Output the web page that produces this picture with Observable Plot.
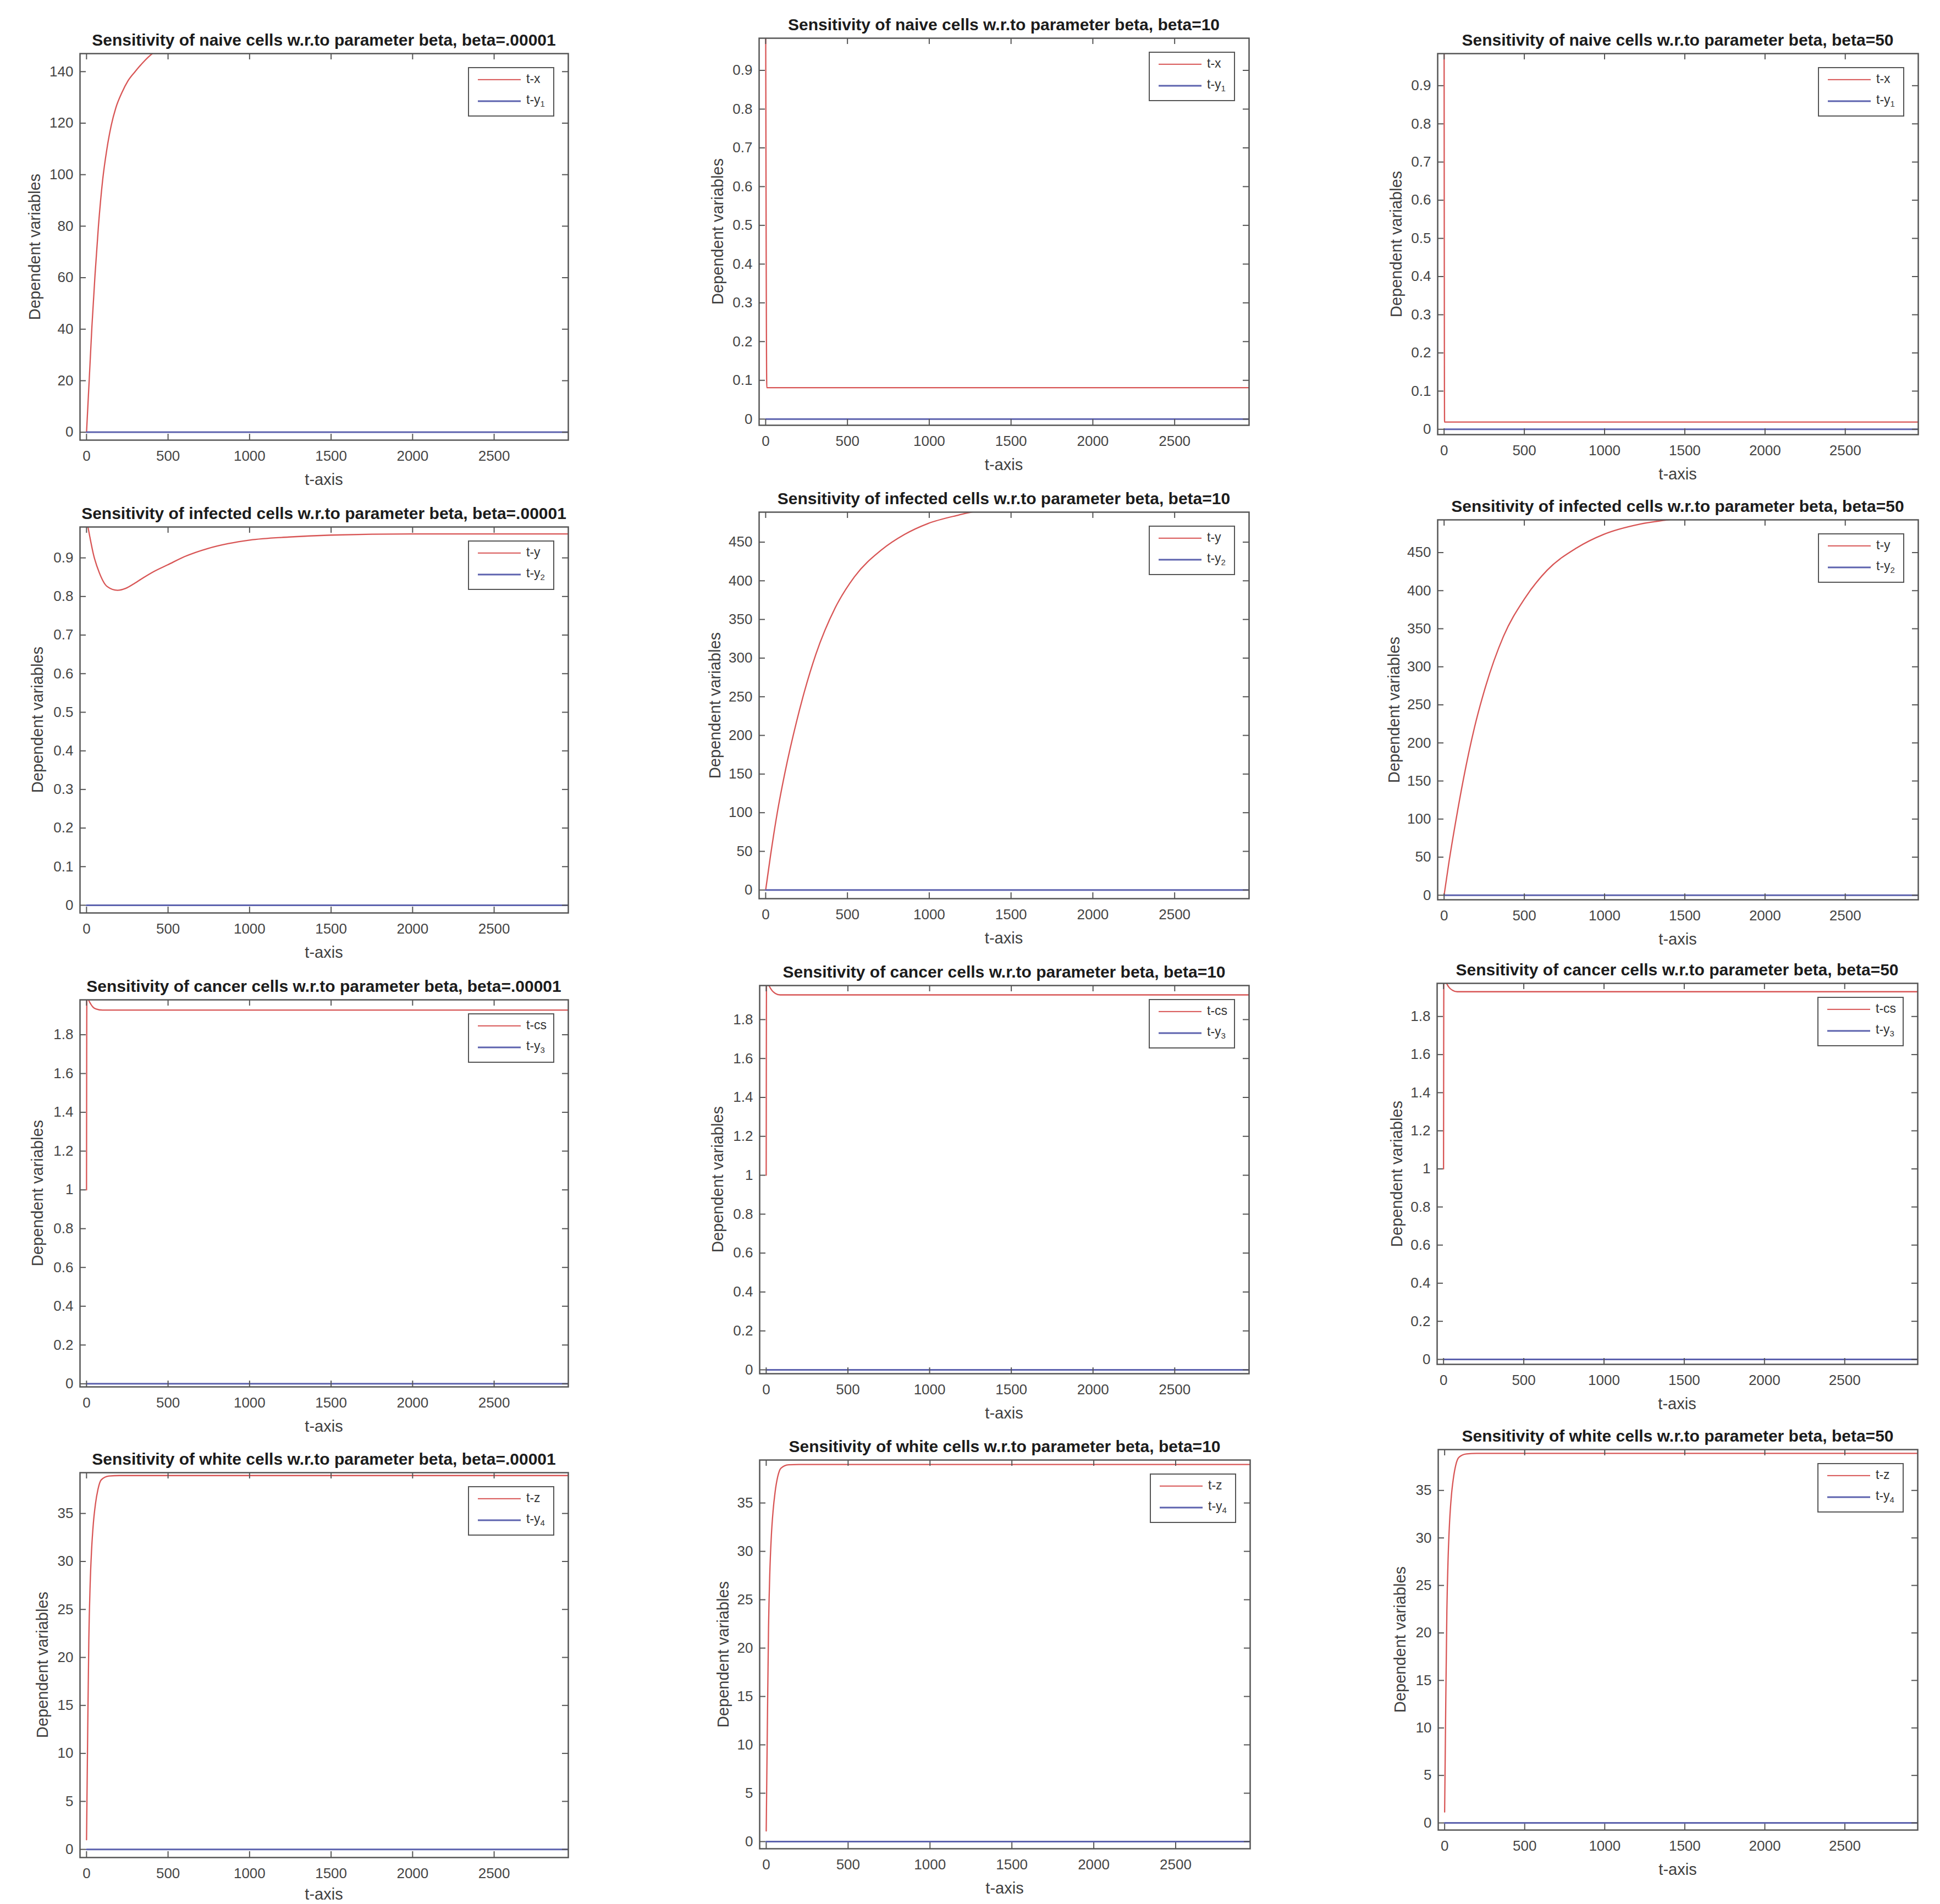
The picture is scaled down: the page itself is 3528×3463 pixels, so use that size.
<!DOCTYPE html>
<html>
<head>
<meta charset="utf-8">
<script src="https://cdn.jsdelivr.net/npm/d3@7"></script>
<script src="https://cdn.jsdelivr.net/npm/@observablehq/plot@0.6"></script>
<style>
  html, body { margin: 0; padding: 0; background: #ffffff; }
  #page { position: relative; width: 3528px; height: 3463px; background: #ffffff; overflow: hidden;
          font-family: "Liberation Sans", Arial, Helvetica, sans-serif; }
  .panel { position: absolute; }
  .panel svg { overflow: visible; }
  .title { position: absolute; font-weight: bold; font-size: 30px; color: #1c1c1c; white-space: nowrap;
           line-height: 1; transform: translate(-50%, -50%); }
  .xlab { position: absolute; font-size: 29px; color: #404040; white-space: nowrap; line-height: 1;
          transform: translate(-50%, -50%); }
  .ylab { position: absolute; font-size: 29px; color: #404040; white-space: nowrap; line-height: 1;
          transform: translate(-50%, -50%) rotate(-90deg); }
  .legend { position: absolute; box-sizing: border-box; border: 2.5px solid #555555; background: #ffffff; }
  .lline { position: absolute; left: 16px; width: 78px; transform: translateY(-50%); }
  .ltext { position: absolute; left: 104px; font-size: 23px; color: #333333; line-height: 1;
           transform: translateY(-55%); white-space: nowrap; }
  .ltext sub { font-size: 15px; vertical-align: -5px; }
</style>
</head>
<body>
<div id="page"></div>
<script>
// ---------------- data ----------------
const xTicks = [0, 500, 1000, 1500, 2000, 2500];
const yTicksNaiveLow = [0, 20, 40, 60, 80, 100, 120, 140];
const yTicksFraction = [0, 0.1, 0.2, 0.3, 0.4, 0.5, 0.6, 0.7, 0.8, 0.9];
const yTicksInfected = [0, 50, 100, 150, 200, 250, 300, 350, 400, 450];
const yTicksCancer = [0, 0.2, 0.4, 0.6, 0.8, 1, 1.2, 1.4, 1.6, 1.8];
const yTicksWhite = [0, 5, 10, 15, 20, 25, 30, 35];

const titles = [
  "Sensitivity of naive cells w.r.to parameter beta, beta=.00001",
  "Sensitivity of naive cells w.r.to parameter beta, beta=10",
  "Sensitivity of naive cells w.r.to parameter beta, beta=50",
  "Sensitivity of infected cells w.r.to parameter beta, beta=.00001",
  "Sensitivity of infected cells w.r.to parameter beta, beta=10",
  "Sensitivity of infected cells w.r.to parameter beta, beta=50",
  "Sensitivity of cancer cells w.r.to parameter beta, beta=.00001",
  "Sensitivity of cancer cells w.r.to parameter beta, beta=10",
  "Sensitivity of cancer cells w.r.to parameter beta, beta=50",
  "Sensitivity of white cells w.r.to parameter beta, beta=.00001",
  "Sensitivity of white cells w.r.to parameter beta, beta=10",
  "Sensitivity of white cells w.r.to parameter beta, beta=50"
];
const legendRedLabels = ["t-x", "t-y", "t-cs", "t-z"];
const legendBlueBase = "t-y";
const legendBlueSubs = ["1", "2", "3", "4"];
const xAxisLabel = "t-axis";
const yAxisLabel = "Dependent variables";

// red series (t, value) per panel
const tNaiveLow = [0, 17, 33, 52, 73, 99, 125, 151, 180, 218, 255, 298, 350, 400, 500, 700, 1000, 3000];
const vNaiveLow = [0, 21, 41, 61, 80, 98, 110, 119, 126, 132, 136.5, 140, 143.8, 146.8, 150, 152, 152.5, 152.5];
const tNaive10 = [0, 7, 3000];
const vNaive10 = [1.05, 0.081, 0.081];
const tNaive50 = [0, 3, 3000];
const vNaive50 = [1.05, 0.019, 0.019];

const tInfLow = [0, 20, 43, 78, 126, 190, 240, 291, 350, 410, 498, 600, 742, 870, 1000, 1240, 1500, 2000, 3000];
const vInfLow = [1.0, 0.955, 0.908, 0.862, 0.826, 0.816, 0.821, 0.833, 0.849, 0.864, 0.882, 0.903, 0.924, 0.937, 0.946, 0.954, 0.959, 0.962, 0.962];
const tInf10 = [0, 30, 71, 118, 189, 236, 307, 425, 542, 708, 849, 991, 1179, 1262, 1500, 2000, 3000];
const vInf10 = [0, 45, 100, 152, 218, 256, 305, 365, 405, 440, 460, 474, 485, 489, 494, 498, 499];
const tInf50 = [0, 30, 75, 120, 189, 257, 370, 500, 643, 825, 995, 1211, 1393, 1600, 2000, 3000];
const vInf50 = [0, 43, 100, 152, 220, 273, 340, 389, 427, 456, 474, 487, 493, 497, 499, 500];

const tCancerLow = [0, 2, 8, 15, 26, 40, 58, 100, 3000];
const vCancerLow = [1.0, 2.0, 1.99, 1.975, 1.958, 1.942, 1.933, 1.927, 1.927];
const tCancer10 = [0, 2, 10, 20, 35, 55, 85, 3000];
const vCancer10 = [1.0, 2.0, 1.99, 1.97, 1.95, 1.935, 1.927, 1.927];
const tCancer50 = [0, 2, 10, 20, 35, 55, 85, 3000];
const vCancer50 = [1.0, 2.0, 1.99, 1.972, 1.952, 1.938, 1.93, 1.93];

const tWhite = [0, 7, 14, 22, 31, 42, 54, 70, 90, 137, 200, 3000];
const vWhiteLow = [1.0, 12, 21.8, 27.5, 31.2, 34, 35.9, 37.5, 38.5, 38.9, 38.95, 38.95];
const vWhite10 = [1.1, 12, 22, 27.8, 31.5, 34.2, 36.1, 37.7, 38.6, 38.95, 38.98, 38.98];
const vWhite50 = [1.15, 12.5, 22.3, 28, 31.7, 34.4, 36.2, 37.7, 38.5, 38.85, 38.9, 38.9];

// blue series (identically zero)
const tBlue = [0, 3000];
const vBlue = [0, 0];

// axis limits
const xDomain = [-40, 2955];
const yDomains = [
  [-3.07, 147], [-0.016, 0.983], [-0.014, 0.984],
  [-0.02, 0.98], [-11.2, 488.8], [-6, 493],
  [-0.016, 1.98], [-0.02, 1.975], [-0.026, 1.974],
  [-0.85, 39.25], [-0.74, 39.44], [-0.75, 39.3]
];

// ---------------- layout (pixel geometry of each axes box) ----------------
const frames = [
  [145, 97, 1033, 800], [1380, 69, 2271, 773], [2614, 97, 3488, 790],
  [145, 958, 1033, 1660], [1380, 931, 2271, 1634], [2614, 945, 3488, 1636],
  [145, 1818, 1033, 2522], [1381, 1792, 2271, 2498], [2613, 1788, 3487, 2481],
  [145, 2678, 1033, 3378], [1381, 2655, 2273, 3362], [2615, 2636, 3487, 3328]
];
const yLabelOffsets = [82, 75, 75, 77, 80, 79, 77, 76, 73, 68, 66, 69];
const xLabelOffsets = [72, 72, 72, 72, 72, 72, 72, 72, 72, 67, 72, 72];

const series = [
  [tNaiveLow, vNaiveLow], [tNaive10, vNaive10], [tNaive50, vNaive50],
  [tInfLow, vInfLow], [tInf10, vInf10], [tInf50, vInf50],
  [tCancerLow, vCancerLow], [tCancer10, vCancer10], [tCancer50, vCancer50],
  [tWhite, vWhiteLow], [tWhite, vWhite10], [tWhite, vWhite50]
];
const yTicksByPanel = [
  yTicksNaiveLow, yTicksFraction, yTicksFraction,
  yTicksFraction, yTicksInfected, yTicksInfected,
  yTicksCancer, yTicksCancer, yTicksCancer,
  yTicksWhite, yTicksWhite, yTicksWhite
];

// ---------------- drawing ----------------
const RED = "#d85555";
const BLUE = "#5c62ae";
const AXIS = "#555555";
const fmt = d3.format("~g");
const M = {l: 120, t: 20, r: 20, b: 60};
const page = document.getElementById("page");

function addDiv(cls, x, y, html) {
  const d = document.createElement("div");
  d.className = cls;
  d.style.left = x + "px";
  d.style.top = y + "px";
  d.innerHTML = html;
  page.appendChild(d);
  return d;
}

titles.forEach((title, i) => {
  const [fl, ft, fr, fb] = frames[i];
  const fw = fr - fl, fh = fb - ft;
  const [ts, vs] = series[i];
  const redData = ts.map((t, k) => ({t, v: vs[k]}));
  const blueData = tBlue.map((t, k) => ({t, v: vBlue[k]}));
  const yTicks = yTicksByPanel[i];
  const tickStyle = {stroke: AXIS, strokeWidth: 2};

  const svg = Plot.plot({
    width: fw + M.l + M.r,
    height: fh + M.t + M.b,
    marginLeft: M.l, marginTop: M.t, marginRight: M.r, marginBottom: M.b,
    style: {fontFamily: '"Liberation Sans", Arial, Helvetica, sans-serif', color: "#454545",
            background: "transparent", overflow: "visible"},
    x: {domain: xDomain},
    y: {domain: yDomains[i]},
    marks: [
      Plot.line(redData, {x: "t", y: "v", stroke: RED, strokeWidth: 2.3, curve: "monotone-x", clip: true}),
      Plot.line(blueData, {x: "t", y: "v", stroke: BLUE, strokeWidth: 3, clip: true}),
      Plot.tickY(yTicks, {y: d => d, insetRight: fw - 11, ...tickStyle}),
      Plot.tickY(yTicks, {y: d => d, insetLeft: fw - 11, ...tickStyle}),
      Plot.tickX(xTicks, {x: d => d, insetTop: fh - 11, ...tickStyle}),
      Plot.tickX(xTicks, {x: d => d, insetBottom: fh - 11, ...tickStyle}),
      Plot.axisY(yTicks, {anchor: "left", tickSize: 0, tickPadding: 12, tickFormat: fmt, fontSize: 26, label: null}),
      Plot.axisX(xTicks, {anchor: "bottom", tickSize: 0, tickPadding: 19, tickFormat: fmt, fontSize: 26, label: null}),
      Plot.frame({stroke: AXIS, strokeWidth: 2.5})
    ]
  });
  const holder = document.createElement("div");
  holder.className = "panel";
  holder.style.left = (fl - M.l) + "px";
  holder.style.top = (ft - M.t) + "px";
  holder.appendChild(svg);
  page.appendChild(holder);

  // title, axis labels
  addDiv("title", (fl + fr) / 2, ft - 24, title);
  addDiv("xlab", (fl + fr) / 2, fb + xLabelOffsets[i], xAxisLabel);
  addDiv("ylab", fl - yLabelOffsets[i], (ft + fb) / 2, yAxisLabel);

  // legend box
  const row = Math.floor(i / 3);
  const lg = document.createElement("div");
  lg.className = "legend";
  lg.style.left = (fr - 25 - 157) + "px";
  lg.style.top = (ft + 25) + "px";
  lg.style.width = "157px";
  lg.style.height = "90px";
  lg.innerHTML =
    `<div class="lline" style="top:21px;height:2.3px;background:${RED}"></div>` +
    `<div class="ltext" style="top:21px">${legendRedLabels[row]}</div>` +
    `<div class="lline" style="top:60px;height:3px;background:${BLUE}"></div>` +
    `<div class="ltext" style="top:60px">${legendBlueBase}<sub>${legendBlueSubs[row]}</sub></div>`;
  page.appendChild(lg);
});
</script>
</body>
</html>
